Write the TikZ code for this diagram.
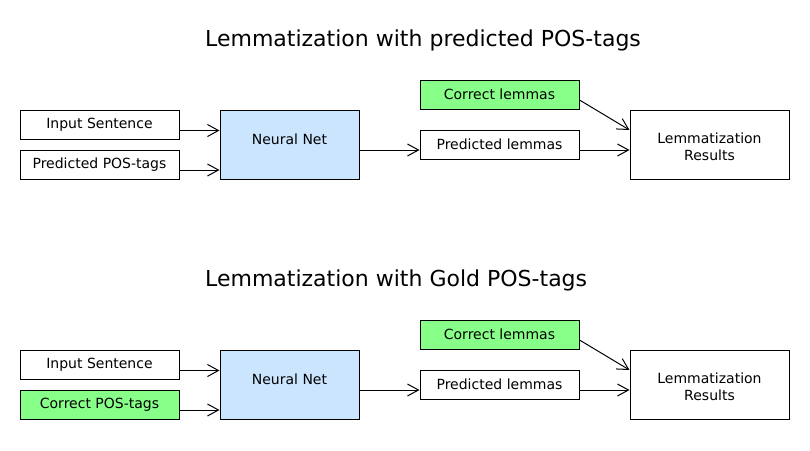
\documentclass[tikz,border=0pt]{standalone}
\usepackage{fontspec}
\setmainfont{DejaVu Sans}
\usetikzlibrary{arrows.meta}
\definecolor{boxgreen}{RGB}{136,255,136}
\definecolor{boxblue}{RGB}{204,229,255}
\tikzset{
  boxw/.style={draw=black, line width=1pt, fill=white, minimum width=159pt, minimum height=29pt, inner sep=0pt, font=\fontsize{14}{16.5}\selectfont, align=center},
  boxbig/.style={boxw, minimum height=69pt, minimum width=139pt},
  greenbox/.style={boxw, fill=boxgreen},
  nnbox/.style={boxbig, fill=boxblue},
  lrbox/.style={boxbig, minimum width=159pt},
  nntext/.style={inner sep=0pt, font=\fontsize{14}{16.5}\selectfont, yshift=5pt},
  lrtext/.style={inner sep=0pt, font=\fontsize{14}{16.5}\selectfont, align=center, yshift=-2.5pt},
  titletext/.style={anchor=base west, inner sep=0pt, font=\fontsize{22}{26}\selectfont},
  conn/.style={draw=black, line width=1pt, -{Straight Barb[length=11pt,width=12pt,line width=1pt]}}
}
\begin{document}
\begin{tikzpicture}[x=1pt,y=-1pt]
\useasboundingbox (0,0) rectangle (810,450);
% top diagram
\node[titletext] (t1) at (205,46) {Lemmatization with predicted POS-tags};
\node[boxw] (in1) at (99.5,124.5) {Input Sentence};
\node[boxw] (pos1) at (99.5,164.5) {Predicted POS-tags};
\node[nnbox, label={[nntext]center:Neural Net}] (nn1) at (289.5,144.5) {};
\node[greenbox] (cl1) at (499.5,94.5) {Correct lemmas};
\node[boxw] (pl1) at (499.5,144.5) {Predicted lemmas};
\node[lrbox, label={[lrtext]center:Lemmatization\\Results}] (lr1) at (709.5,144.5) {};
\draw[conn] ([yshift=-6pt]in1.east) -- ([yshift=-6pt]in1.east -| nn1.west);
\draw[conn] ([yshift=-5.5pt]pos1.east) -- ([yshift=-5.5pt]pos1.east -| nn1.west);
\draw[conn] ([yshift=-5.5pt]nn1.east) -- ([yshift=-5.5pt]pl1.west);
\draw[conn] ([yshift=-5.5pt]pl1.east) -- ([yshift=-5.5pt]lr1.west);
\draw[conn] ([yshift=-5.5pt]cl1.east) -- ([yshift=14.5pt]lr1.west);
% bottom diagram
\node[titletext] (t2) at (205,286) {Lemmatization with Gold POS-tags};
\node[boxw] (in2) at (99.5,364.5) {Input Sentence};
\node[greenbox] (pos2) at (99.5,404.5) {Correct POS-tags};
\node[nnbox, label={[nntext]center:Neural Net}] (nn2) at (289.5,384.5) {};
\node[greenbox] (cl2) at (499.5,334.5) {Correct lemmas};
\node[boxw] (pl2) at (499.5,384.5) {Predicted lemmas};
\node[lrbox, label={[lrtext]center:Lemmatization\\Results}] (lr2) at (709.5,384.5) {};
\draw[conn] ([yshift=-6pt]in2.east) -- ([yshift=-6pt]in2.east -| nn2.west);
\draw[conn] ([yshift=-5.5pt]pos2.east) -- ([yshift=-5.5pt]pos2.east -| nn2.west);
\draw[conn] ([yshift=-5.5pt]nn2.east) -- ([yshift=-5.5pt]pl2.west);
\draw[conn] ([yshift=-5.5pt]pl2.east) -- ([yshift=-5.5pt]lr2.west);
\draw[conn] ([yshift=-5.5pt]cl2.east) -- ([yshift=14.5pt]lr2.west);
\end{tikzpicture}
\end{document}
